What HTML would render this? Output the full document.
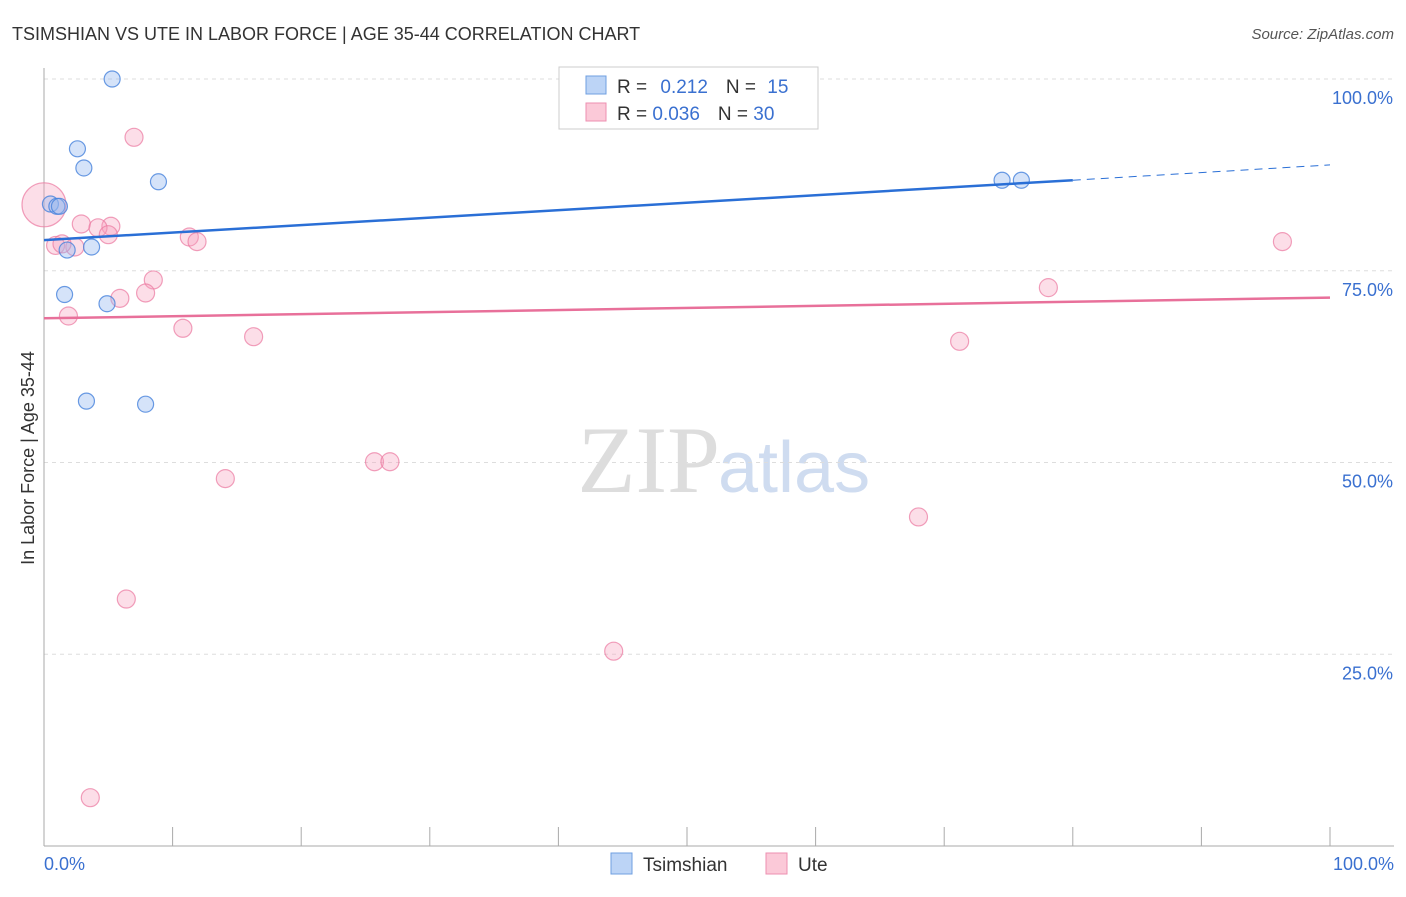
<!DOCTYPE html>
<html><head><meta charset="utf-8"><style>
body{margin:0;background:#fff;font-family:"Liberation Sans",sans-serif}
</style></head><body>
<svg id="c" width="1406" height="892" xmlns="http://www.w3.org/2000/svg" style="font-family:'Liberation Sans',sans-serif">
<text x="12" y="40" font-size="18" fill="#333">TSIMSHIAN VS UTE IN LABOR FORCE | AGE 35-44 CORRELATION CHART</text>
<text x="1394" y="39" font-size="15" fill="#555" text-anchor="end" font-style="italic">Source: ZipAtlas.com</text>
<text x="720" y="492" font-size="95" fill="#ddd" text-anchor="end" font-family="Liberation Serif">ZIP</text>
<text x="718" y="492" font-size="72" fill="#cfdcf0">atlas</text>
<text transform="translate(34,458) rotate(-90)" font-size="18" fill="#333" text-anchor="middle">In Labor Force | Age 35-44</text>
<g id="grid"></g><g id="pts"></g><g id="lines"></g>
<g>
<rect x="559" y="67" width="259" height="62" fill="#fff" stroke="#ccc"/>
<rect x="586" y="76" width="20" height="18" fill="#bcd4f6" stroke="#6f9fe0"/>
<rect x="586" y="103" width="20" height="18" fill="#fbc9d8" stroke="#ee8fb0"/>
<text x="617" y="93" font-size="19" fill="#333">R = <tspan fill="#3a70d0" dx="8">0.212</tspan><tspan dx="18">N = </tspan><tspan fill="#3a70d0" dx="6">15</tspan></text>
<text x="617" y="120" font-size="19" fill="#333">R = <tspan fill="#3a70d0">0.036</tspan><tspan dx="18">N = </tspan><tspan fill="#3a70d0">30</tspan></text>
</g>
<g>
<rect x="611" y="853" width="21" height="21" fill="#bcd4f6" stroke="#6f9fe0"/>
<text x="643" y="871" font-size="19" fill="#333">Tsimshian</text>
<rect x="766" y="853" width="21" height="21" fill="#fbc9d8" stroke="#ee8fb0"/>
<text x="798" y="871" font-size="19" fill="#333">Ute</text>
</g>
</svg>
<script>
const yTicks=[100,75,50,25];
const xTickLabels=["0.0%","100.0%"];
const tsimX=[5.3,2.6,3.1,8.9,0.5,1.0,1.2,1.8,3.7,1.6,4.9,3.3,7.9,74.5,76.0];
const tsimY=[100,90.9,88.4,86.6,83.7,83.4,83.4,77.7,78.1,71.9,70.7,58.0,57.6,86.8,86.8];
const uteX=[0,7.0,2.9,5.2,4.2,5.0,11.3,11.9,0.9,2.4,1.4,8.5,7.9,5.9,1.9,10.8,16.3,52.4,56.7,96.3,78.1,71.2,25.7,26.9,14.1,68.0,6.4,44.3,3.6];
const uteY=[83.6,92.4,81.1,80.8,80.6,79.7,79.4,78.8,78.3,78.1,78.5,73.8,72.1,71.4,69.1,67.5,66.4,100,100,78.8,72.8,65.8,50.1,50.1,47.9,42.9,32.2,25.4,6.3];
const uteR=[22,9,9,9,9,9,9,9,9,9,9,9,9,9,9,9,9,9,9,9,9,9,9,9,9,9,9,9,9];
const blueTrend=[[0,79.0],[80,86.8],[100,88.8]];
const pinkTrend=[[0,68.8],[100,71.5]];
const X=v=>44+v*12.86, Y=v=>846-v*7.67;
const ns="http://www.w3.org/2000/svg";
function mk(t,a,p){const e=document.createElementNS(ns,t);for(const k in a)e.setAttribute(k,a[k]);p.appendChild(e);return e;}
const g=document.getElementById('grid');
yTicks.forEach(t=>{const l=mk('line',{x1:44,x2:1394,y1:Y(t),y2:Y(t),stroke:'#ddd','stroke-dasharray':'4,4'},g);


const tx=mk('text',{x:1393,y:Y(t)+25,'font-size':18,fill:'#3a70d0','text-anchor':'end'},g);tx.textContent=t.toFixed(1)+'%';

});
const ax=mk('line',{x1:44,x2:44,y1:68,y2:846,stroke:'#aaa'},g);


const bx=mk('line',{x1:44,x2:1394,y1:846,y2:846,stroke:'#aaa'},g);


for(let i=1;i<=10;i++){const t=mk('line',{x1:X(i*10),x2:X(i*10),y1:827,y2:846,stroke:'#aaa'},g);

}
[[0,'start',44],[100,'end',1394]].forEach((d,i)=>{const t=mk('text',{x:d[2],y:870,'font-size':18,fill:'#3a70d0','text-anchor':d[1]},g);t.textContent=xTickLabels[i];

});
const p=document.getElementById('pts');
uteX.forEach((x,i)=>{const c=mk('circle',{cx:X(x),cy:Y(uteY[i]),r:uteR[i],fill:'rgba(246,160,190,0.35)',stroke:'rgba(235,120,160,0.7)','stroke-width':1.2},p);

});
tsimX.forEach((x,i)=>{const c=mk('circle',{cx:X(x),cy:Y(tsimY[i]),r:8,fill:'rgba(150,185,240,0.4)',stroke:'rgba(70,130,220,0.8)','stroke-width':1.2},p);

});
const L=document.getElementById('lines');
let b1=mk('line',{x1:X(blueTrend[0][0]),y1:Y(blueTrend[0][1]),x2:X(blueTrend[1][0]),y2:Y(blueTrend[1][1]),stroke:'#2a6fd6','stroke-width':2.5},L);


let b2=mk('line',{x1:X(blueTrend[1][0]),y1:Y(blueTrend[1][1]),x2:X(blueTrend[2][0]),y2:Y(blueTrend[2][1]),stroke:'#2a6fd6','stroke-width':1,'stroke-dasharray':'8,6'},L);


let p1=mk('line',{x1:X(pinkTrend[0][0]),y1:Y(pinkTrend[0][1]),x2:X(pinkTrend[1][0]),y2:Y(pinkTrend[1][1]),stroke:'#e8709a','stroke-width':2.5},L);


</script>
</body></html>
